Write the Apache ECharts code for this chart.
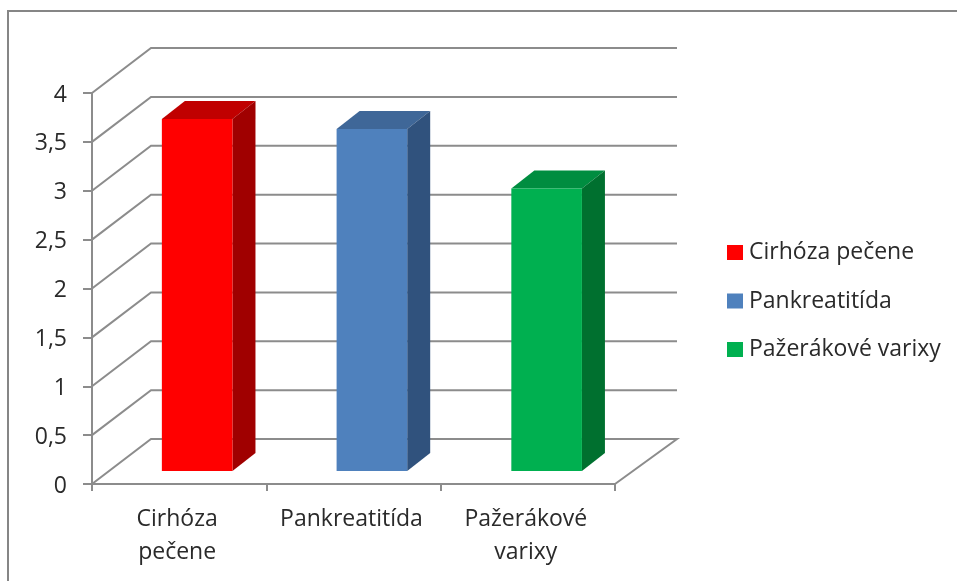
<!DOCTYPE html>
<html>
<head>
<meta charset="utf-8">
<style>html,body{margin:0;padding:0;background:#fff}#c{width:957px;height:581px}</style>
<script src="https://cdn.jsdelivr.net/npm/echarts@6/dist/echarts.min.js"></script>
</head>
<body>
<div id="c"></div>
<script>
const categories = ['Cirhóza pečene', 'Pankreatitída', 'Pažerákové varixy'];
const axisCategoryLabels = ['Cirhóza\npečene', 'Pankreatitída', 'Pažerákové\nvarixy'];
const values = [3.6, 3.5, 2.89];
const yTicks = [0, 0.5, 1, 1.5, 2, 2.5, 3, 3.5, 4];
const frontColors = ['#FF0000', '#4F81BD', '#00B050'];
const topColors = ['#C00000', '#3F6798', '#008D40'];
const sideColors = ['#A00000', '#30527D', '#00702F'];

const GREY = '#8c8c8c', TEXT = '#2a2a2a', FONT = '"Open Sans"';
const wall = {dx: 59, dy: 45};
const bar = {offX: 18, offY: 13, depthX: 23, depthY: 18, ratio: 0.405};

function renderWalls(params, api) {
  const cs = params.coordSys;
  const v = api.value(0);
  const y = api.coord([0, v])[1];
  const x0 = cs.x, x1 = cs.x + cs.width;
  const style = {stroke: GREY, lineWidth: 2, fill: null};
  const pts = [[x0, y], [x0 + wall.dx, y - wall.dy], [x1 + wall.dx + 3, y - wall.dy]];
  if (v === 0) pts.push([x1, y]);
  return {type: 'polyline', shape: {points: pts}, style};
}

function renderBar(i) {
  return function (params, api) {
    const top = api.coord([api.value(0), api.value(1)]);
    const base = api.coord([api.value(0), 0]);
    const w = api.size([1, 0])[0] * bar.ratio;
    const l = top[0] - w / 2 + bar.offX + i * 0.4, r = l + w;
    const t = top[1] - bar.offY, b = base[1] - bar.offY;
    const dx = bar.depthX, dy = bar.depthY;
    return {
      type: 'group',
      children: [
        {type: 'polygon', shape: {points: [[l, t], [r, t], [r + dx, t - dy], [l + dx, t - dy]]}, style: {fill: topColors[i]}},
        {type: 'polygon', shape: {points: [[r, t], [r + dx, t - dy], [r + dx, b - dy], [r, b]]}, style: {fill: sideColors[i]}},
        {type: 'rect', shape: {x: l, y: t, width: w, height: b - t}, style: {fill: frontColors[i]}}
      ]
    };
  };
}

const chart = echarts.init(document.getElementById('c'), null, {renderer: 'canvas'});
chart.setOption({
  animation: false,
  backgroundColor: '#fff',
  grid: {left: 92, top: 93, width: 523, height: 391},
  graphic: [{
    type: 'polyline', silent: true,
    shape: {points: [[8, 581], [8, 11], [957, 11]]},
    style: {stroke: '#868686', lineWidth: 2, fill: null}
  }],
  legend: {
    orient: 'vertical', left: 727, top: 241, padding: 0,
    data: categories, icon: 'rect', itemWidth: 16, itemHeight: 15, itemGap: 25.5,
    selectedMode: false,
    textStyle: {fontFamily: FONT, fontSize: 23, lineHeight: 15, color: TEXT, padding: [0, 0, 0, 1]}
  },
  xAxis: {
    type: 'category', data: axisCategoryLabels,
    axisLine: {lineStyle: {color: GREY, width: 2}},
    axisTick: {show: true, length: 7, alignWithLabel: false, lineStyle: {color: GREY, width: 2}},
    axisLabel: {fontFamily: FONT, fontSize: 23, color: TEXT, lineHeight: 33, margin: 19, interval: 0, padding: [0, 4, 0, 0]}
  },
  yAxis: {
    type: 'value', min: 0, max: 4, interval: 0.5,
    splitLine: {show: false},
    axisLine: {show: true, lineStyle: {color: GREY, width: 2}},
    axisTick: {show: true, length: 9, lineStyle: {color: GREY, width: 2}},
    axisLabel: {color: TEXT, margin: 25,
      formatter: v => '{n|' + String(v).replace('.', ',') + '}',
      rich: {n: {fontFamily: FONT, fontSize: 23, color: TEXT, padding: [4, 0, 0, 0]}}}
  },
  series: [
    {type: 'custom', silent: true, z: 1, data: yTicks.map(v => [v]), encode: {y: 0}, renderItem: renderWalls, clip: false}
  ].concat(categories.map((name, i) => ({
    type: 'custom', name, z: 3, clip: false,
    itemStyle: {color: frontColors[i]},
    data: [[i, values[i]]], encode: {x: 0, y: 1},
    renderItem: renderBar(i)
  })))
});
</script>
</body>
</html>
